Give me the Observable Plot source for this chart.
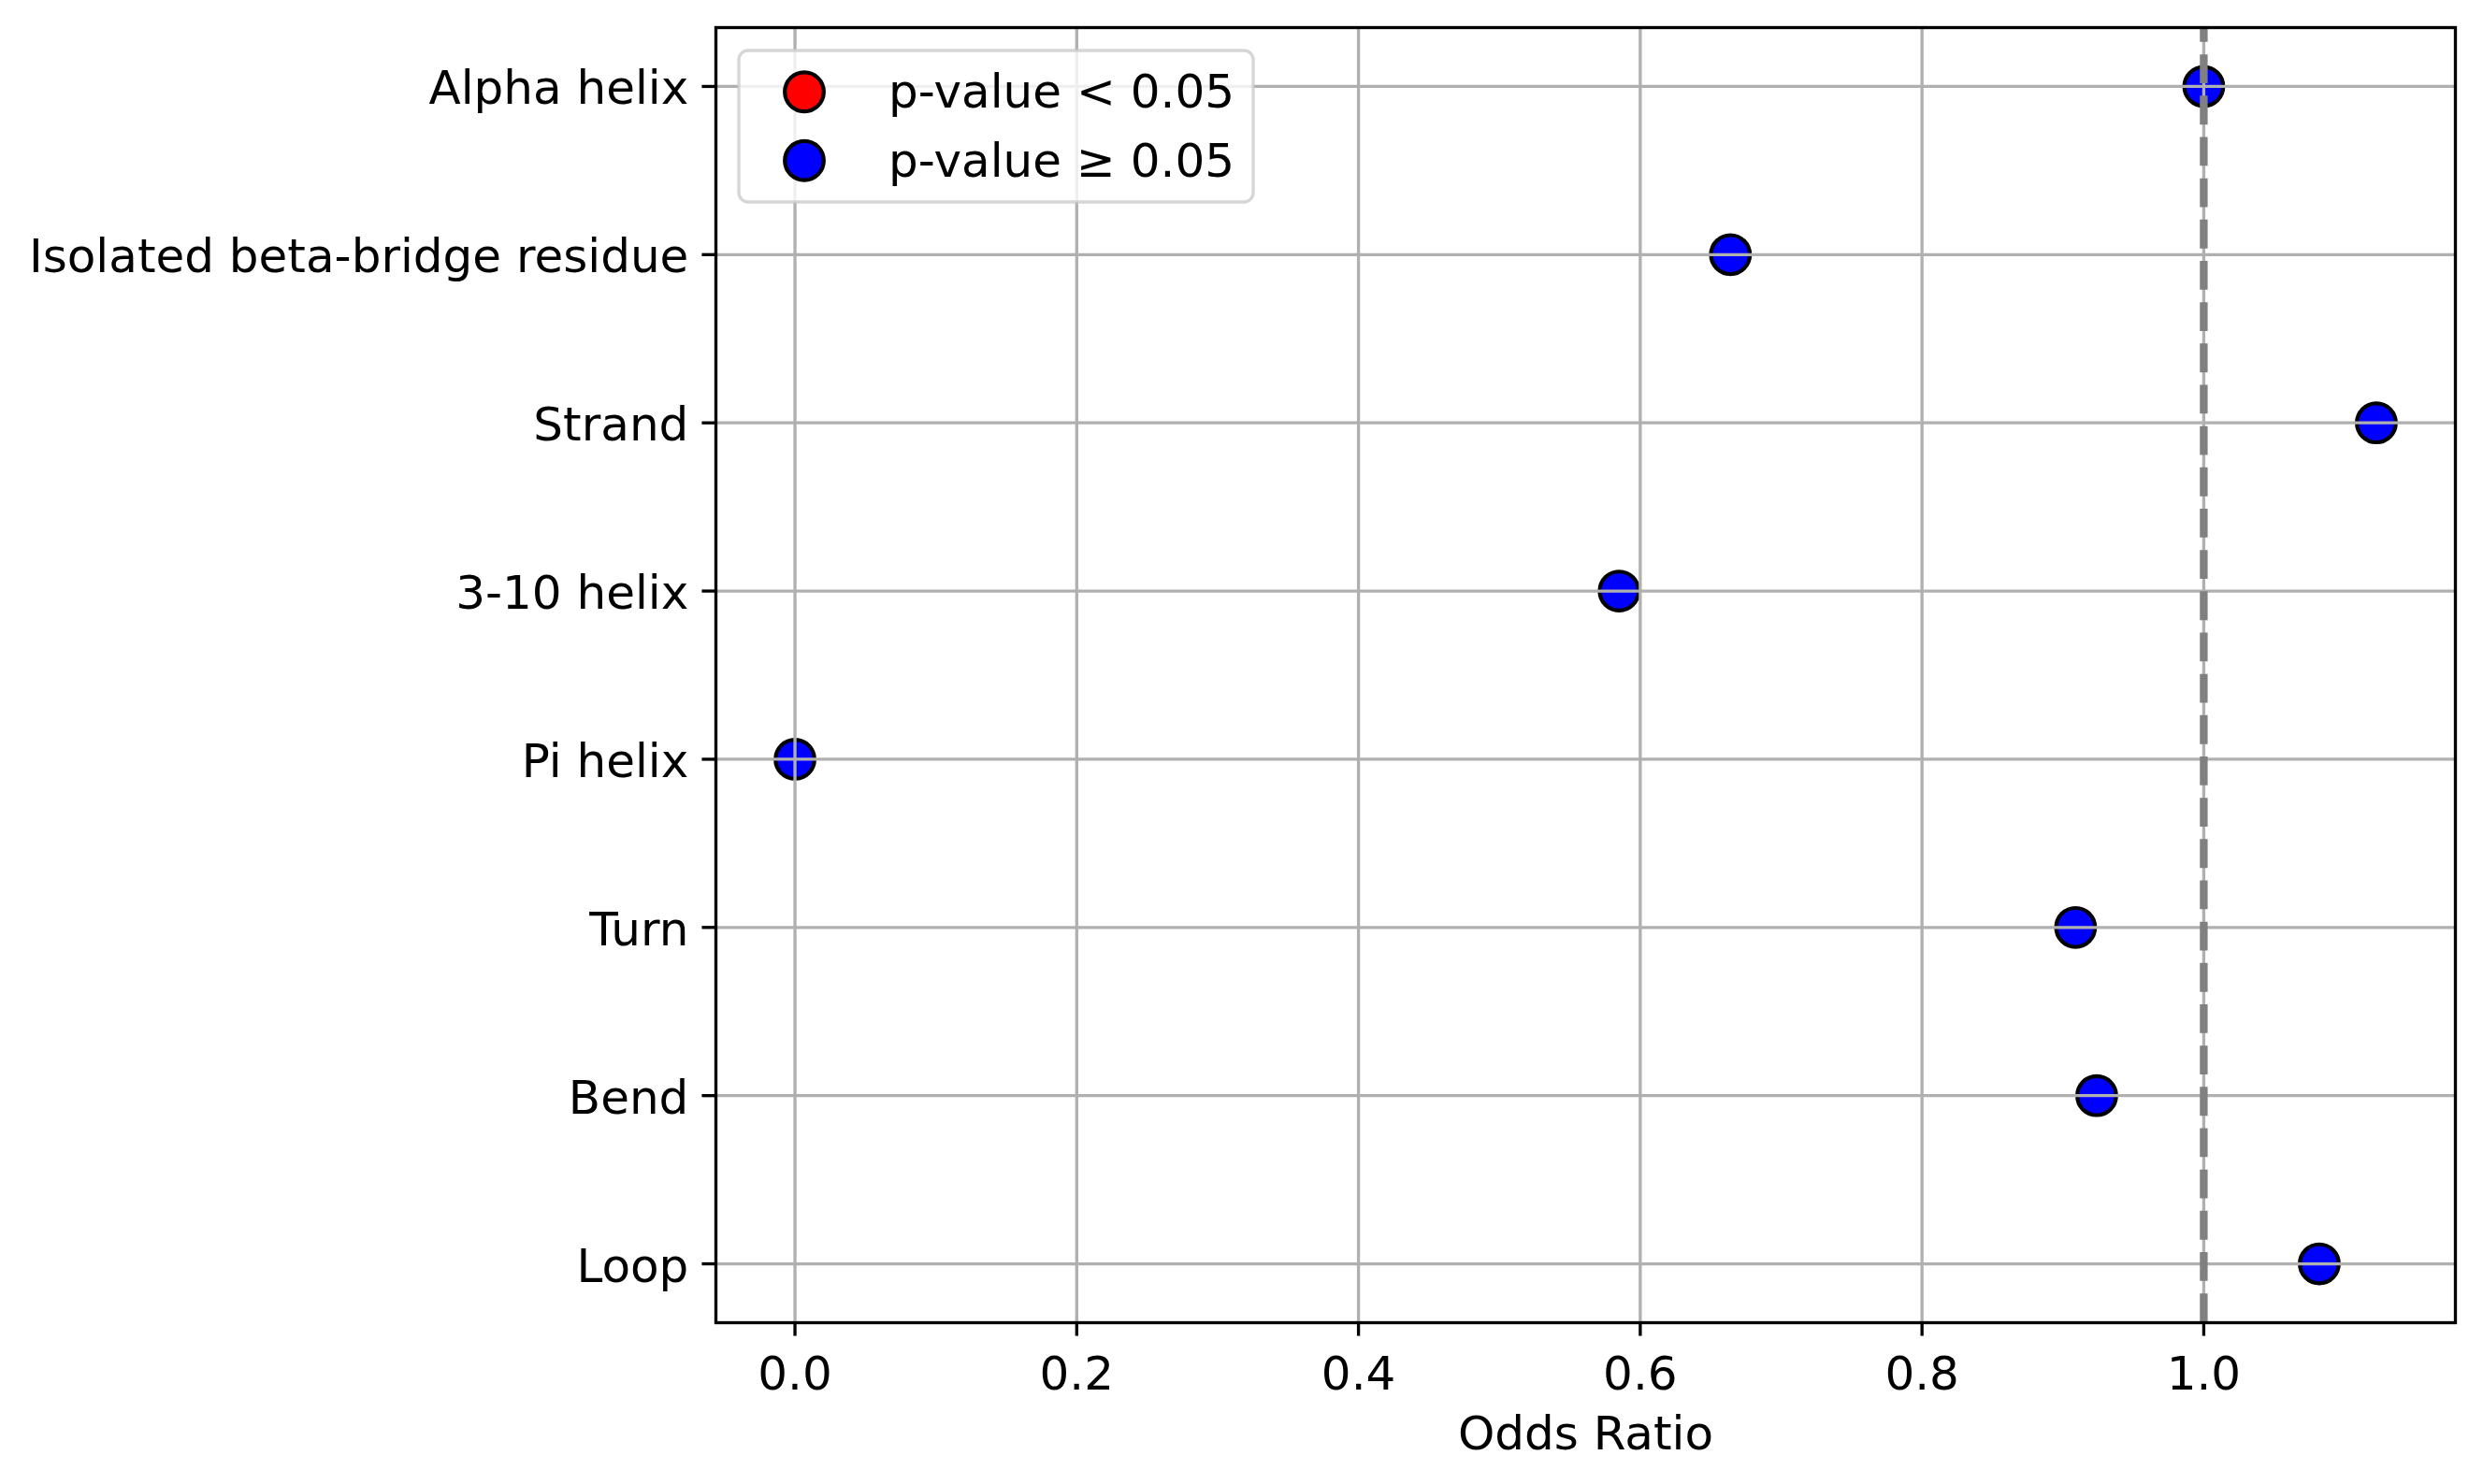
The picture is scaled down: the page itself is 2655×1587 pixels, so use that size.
<!DOCTYPE html>
<html><head><meta charset="utf-8">
<script src="https://cdn.jsdelivr.net/npm/d3@7"></script>
<script src="https://cdn.jsdelivr.net/npm/@observablehq/plot@0.6"></script>
<style>html,body{margin:0;padding:0;background:#fff}</style>
</head><body><div id="chart"></div>
<script>
const categories = ["Alpha helix","Isolated beta-bridge residue","Strand","3-10 helix","Pi helix","Turn","Bend","Loop"];
const oddsRatios = [1.0, 0.664, 1.1225, 0.585, 0.0, 0.909, 0.924, 1.082];
const significant = [false, false, false, false, false, false, false, false];
const xTicks = [0, 0.2, 0.4, 0.6, 0.8, 1.0];
const legendLabels = ["p-value < 0.05", "p-value \u2265 0.05"];
const legendColors = ["red", "blue"];
const xLabel = "Odds Ratio";
const referenceLine = [1.0];

const data = categories.map((c, i) => ({category: c, or: oddsRatios[i], sig: significant[i]}));
const W = 2655, H = 1587, mL = 765, mR = 30, mT = 29, mB = 173;
const pt = 300 / 72;
const fs = 12 * pt;
const xMin = d3.min(oddsRatios), xMax = d3.max(oddsRatios), pad = (xMax - xMin) * 0.05;
const dashLen = 7.4 * pt, gapLen = 3.2 * pt, frameH = H - mT - mB;
const period = dashLen + gapLen;
const dashOffset = (dashLen - (frameH % period) + period) % period;

const chart = Plot.plot({
  width: W, height: H,
  marginLeft: mL, marginRight: mR, marginTop: mT, marginBottom: mB,
  style: {fontFamily: "DejaVu Sans", fontSize: fs + "px", background: "white", color: "black"},
  x: {domain: [xMin - pad, xMax + pad]},
  y: {type: "point", domain: categories, padding: 0.35, round: false, align: 0.5},
  color: {type: "identity"},
  marks: [
    Plot.dot(data, {x: "or", y: "category", r: 5 * pt,
      fill: d => d.sig ? legendColors[0] : legendColors[1], stroke: "black", strokeWidth: pt}),
    Plot.gridX(xTicks, {stroke: "#b0b0b0", strokeOpacity: 1, strokeWidth: 0.8 * pt}),
    Plot.gridY(categories, {stroke: "#b0b0b0", strokeOpacity: 1, strokeWidth: 0.8 * pt}),
    Plot.ruleX(referenceLine, {stroke: "#808080", strokeWidth: 2 * pt,
      strokeDasharray: `${dashLen},${gapLen}`, strokeDashoffset: dashOffset}),
    Plot.frame({stroke: "black", strokeWidth: 0.8 * pt}),
    Plot.axisX({ticks: xTicks, tickFormat: d3.format(".1f"), tickSize: 3.5 * pt,
      tickPadding: 3.5 * pt + 7, strokeWidth: 0.8 * pt, fontSize: fs, label: null, fill: "black"}),
    Plot.axisY({tickSize: 3.5 * pt, tickFormat: () => "", strokeWidth: 0.8 * pt, label: null}),
    Plot.axisY({tickSize: 0, tickPadding: 7 * pt, dy: 3, fontSize: fs, label: null, fill: "black"}),
    Plot.text([xLabel], {frameAnchor: "bottom", text: d => d, dy: 119, lineAnchor: "middle",
      fontSize: fs, fill: "black"})
  ]
});
document.getElementById("chart").appendChild(chart);

// Legend (matplotlib-style, upper left inside axes)
const svg = d3.select(chart);
const g = svg.append("g").attr("font-family", "DejaVu Sans").attr("font-size", fs)
  .attr("text-anchor", "start");
const lx = mL + 0.5 * fs, ly = mT + 0.5 * fs;
const borderPad = 0.4 * fs, handleLen = 2 * fs, handlePad = 0.8 * fs, labelSpacing = 0.5 * fs;
const rowH = 48.5;
const box = g.append("rect");
const texts = legendLabels.map((lab, i) => {
  const cy = ly + borderPad + rowH / 2 + i * (rowH + labelSpacing);
  g.append("circle").attr("cx", lx + borderPad + handleLen / 2).attr("cy", cy)
    .attr("r", 5 * pt).attr("fill", legendColors[i]).attr("stroke", "black").attr("stroke-width", pt);
  return g.append("text").attr("x", lx + borderPad + handleLen + handlePad).attr("y", cy + 17)
    .attr("text-anchor", "start").attr("fill", "black").text(lab);
});
const tw = d3.max(texts, t => t.node().getComputedTextLength());
const bw = borderPad * 2 + handleLen + handlePad + tw;
const bh = borderPad * 2 + rowH * 2 + labelSpacing;
box.attr("x", lx).attr("y", ly).attr("width", bw).attr("height", bh)
  .attr("rx", 0.2 * fs).attr("ry", 0.2 * fs)
  .attr("fill", "white").attr("fill-opacity", 0.8)
  .attr("stroke", "#cccccc").attr("stroke-opacity", 0.8).attr("stroke-width", 0.8 * pt);
</script>
</body></html>
